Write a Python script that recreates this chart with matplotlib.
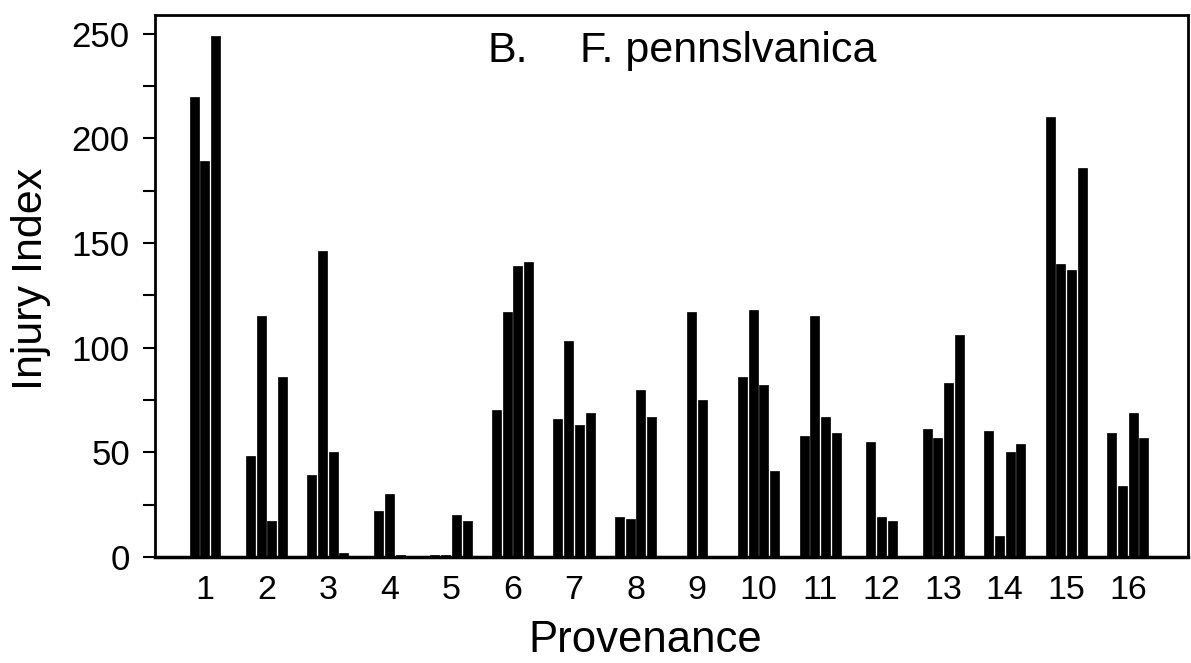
import matplotlib
matplotlib.use("Agg")
import matplotlib.pyplot as plt
from matplotlib.ticker import MultipleLocator
import numpy as np

# ---- data ----
provenances = [str(i) for i in range(1, 17)]
series_a = [220, 48, 39, 22, 1, 70, 66, 19, 117, 86, 58, 55, 61, 60, 210, 59]
series_b = [189, 115, 146, 30, 1, 117, 103, 18, 75, 118, 115, 19, 57, 10, 140, 34]
series_c = [249, 17, 50, 1, 20, 139, 63, 80, None, 82, 67, 17, 83, 50, 137, 69]
series_d = [None, 86, 2, None, 17, 141, 69, 67, None, 41, 59, None, 106, 54, 186, 57]
y_ticks = [0, 50, 100, 150, 200, 250]

plt.rcParams['font.family'] = ['Liberation Sans', 'DejaVu Sans']

fig = plt.figure(figsize=(11.91, 6.63), dpi=100)
ax = fig.add_axes([0.130, 0.160, 0.8673, 0.8175])

bar_w = 0.146
step = 0.174
xpos = np.arange(1, len(provenances) + 1)
all_series = [series_a, series_b, series_c, series_d]
for g, x in enumerate(xpos):
    vals = [s[g] for s in all_series if s[g] is not None]
    n = len(vals)
    offs = (np.arange(n) - (n - 1) / 2) * step
    ax.bar(x + offs, vals, width=bar_w, color='black', edgecolor='black', linewidth=0.5)

ax.set_xlim(0.187, 16.975)
ax.set_ylim(0, 259)
ax.set_xticks(xpos)
ax.set_xticklabels(provenances)
ax.set_yticks(y_ticks)
ax.yaxis.set_minor_locator(MultipleLocator(25))

ax.tick_params(axis='x', length=0, pad=13, labelsize=24.5)
ax.tick_params(axis='y', which='both', direction='out', length=9, width=1.5,
               pad=9, labelsize=25)

for side in ['left', 'top', 'right', 'bottom']:
    ax.spines[side].set_linewidth(2.0)
ax.spines['bottom'].set_linewidth(2.5)

ax.set_ylabel('Injury Index', fontsize=31, labelpad=15)
ax.yaxis.label.set_y(0.513)
ax.set_xlabel('Provenance', fontsize=31.5, labelpad=10)
ax.xaxis.label.set_x(0.475)

fig.text(0.409, 0.9065, 'B.', fontsize=31, ha='left', va='baseline')
fig.text(0.487, 0.9065, 'F. pennslvanica', fontsize=31, ha='left', va='baseline')

fig.savefig('out.png', dpi=100)
